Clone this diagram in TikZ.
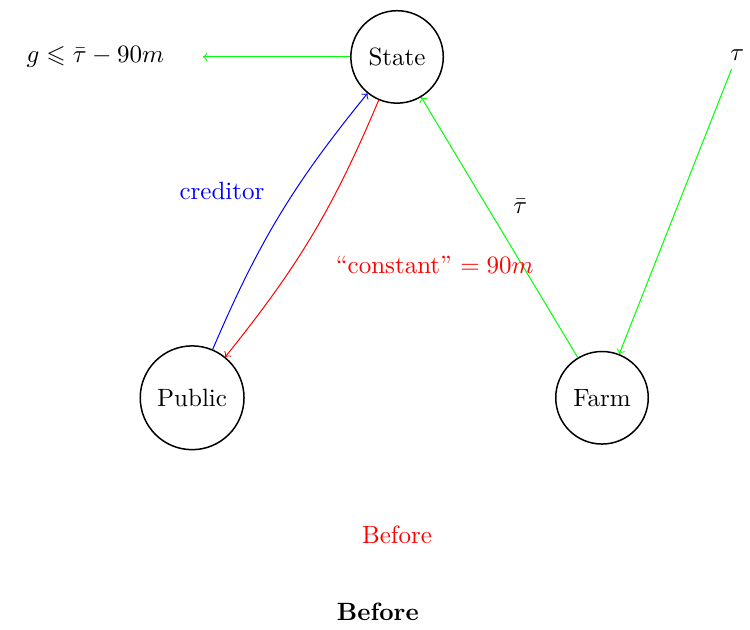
\documentclass[tikz,border=0pt]{standalone}
\usepackage{tikz}
\usetikzlibrary{calc,positioning}
\usepackage{xcolor}
\usepackage{amsmath,amsfonts,amssymb}

\tikzset{
  agent/.style={draw, circle, semithick, inner sep=5pt},
  flow/.style={->, green},
}

\begin{document}
\begin{tikzpicture}
% fix the page size
\useasboundingbox (0,0) rectangle (10.54,8.85);

% Draw the three agents
\node[agent] (state) at (5.58,8.05) {State};
\node[agent] (public) at (2.70,3.26) {Public};
\node[agent] (farm) at (8.46,3.26) {Farm};

% Outside quantities
\node (bound) at (1.34,8.05) {$g \leqslant \bar{\tau} - 90m$};
\node (tax) at (10.36,8.08) {$\tau$};

% Flows between agents
\draw[flow, shorten >=12pt] (state) -- (bound);
\draw[flow] (tax) -- (farm);
\draw[flow] (farm) -- (state);
\draw[->, blue, bend left=8] (public) to (state);
\draw[->, red, bend left=8] (state) to (public);

% Labels
\node at (7.31,5.95) {$\bar{\tau}$};
\node[blue] at (3.12,6.16) {creditor};
\node[red] at (6.11,5.13) {``constant'' $= 90m$};

% Captions
\node[red] at (5.58,1.34) {Before};
\node at (5.31,0.25) {\textbf{Before}};
\end{tikzpicture}
\end{document}
